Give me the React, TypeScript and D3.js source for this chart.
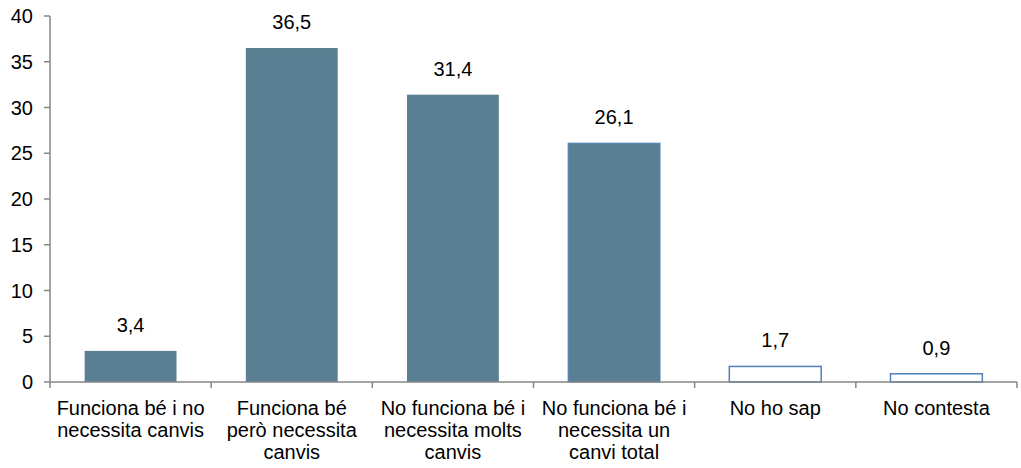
import React from "react";
import * as d3 from "d3";

const categories: string[][] = [
  ["Funciona bé i no", "necessita canvis"],
  ["Funciona bé", "però necessita", "canvis"],
  ["No funciona bé i", "necessita molts", "canvis"],
  ["No funciona bé i", "necessita un", "canvi total"],
  ["No ho sap"],
  ["No contesta"],
];
const values: number[] = [3.4, 36.5, 31.4, 26.1, 1.7, 0.9];
const hollow: boolean[] = [false, false, false, false, true, true];
const yTicks: number[] = [0, 5, 10, 15, 20, 25, 30, 35, 40];

const W = 1021;
const H = 468;
const left = 50;
const right = 1017;
const top = 16;
const bottom = 382;
const font = "'Liberation Sans', Arial, sans-serif";
const fs = 20;

export default function App() {
  const x = d3
    .scaleBand<number>()
    .domain(values.map((_, i) => i))
    .range([left, right])
    .paddingInner(0.43)
    .paddingOuter(0.215);
  const y = d3.scaleLinear().domain([0, 40]).range([bottom, top]);
  const step = (right - left) / values.length;
  const fmt = (v: number) => v.toFixed(1).replace(".", ",");
  const axisColor = "#868686";

  return (
    <svg
      width={W}
      height={H}
      style={{ position: "absolute", left: 0, top: 0, background: "#fff" }}
      fontFamily={font}
    >
      {/* y axis */}
      <line x1={left} x2={left} y1={top} y2={bottom} stroke={axisColor} strokeWidth={1.5} />
      {yTicks.map((t) => (
        <g key={t}>
          <line x1={left - 6} x2={left} y1={y(t)} y2={y(t)} stroke={axisColor} strokeWidth={1.5} />
          <text x={left - 17} y={y(t)} dy="0.36em" textAnchor="end" fontSize={fs} fill="#000">
            {t}
          </text>
        </g>
      ))}
      {/* bars */}
      {values.map((v, i) => (
        <rect
          key={i}
          x={x(i)!}
          y={y(v)}
          width={x.bandwidth()}
          height={y(0) - y(v)}
          fill={hollow[i] ? "#fff" : "#5B7F92"}
          stroke={hollow[i] ? "#4F81BD" : i === 3 ? "#4F81BD" : "none"}
          strokeWidth={hollow[i] ? 1.5 : 1}
        />
      ))}
      {/* x axis */}
      <line x1={left} x2={right} y1={bottom} y2={bottom} stroke={axisColor} strokeWidth={1.5} />
      {d3.range(values.length + 1).map((i) => (
        <line
          key={i}
          x1={left + i * step}
          x2={left + i * step}
          y1={bottom}
          y2={bottom + 6}
          stroke={axisColor}
          strokeWidth={1.5}
        />
      ))}
      {/* value labels */}
      {values.map((v, i) => (
        <text
          key={i}
          x={x(i)! + x.bandwidth() / 2}
          y={y(v) - 19}
          textAnchor="middle"
          fontSize={fs}
          fill="#000"
        >
          {fmt(v)}
        </text>
      ))}
      {/* category labels */}
      {categories.map((lines, i) => (
        <text
          key={i}
          x={left + (i + 0.5) * step}
          y={415}
          textAnchor="middle"
          fontSize={fs}
          fill="#000"
        >
          {lines.map((l, j) => (
            <tspan key={j} x={left + (i + 0.5) * step} dy={j === 0 ? 0 : 22}>
              {l}
            </tspan>
          ))}
        </text>
      ))}
    </svg>
  );
}
